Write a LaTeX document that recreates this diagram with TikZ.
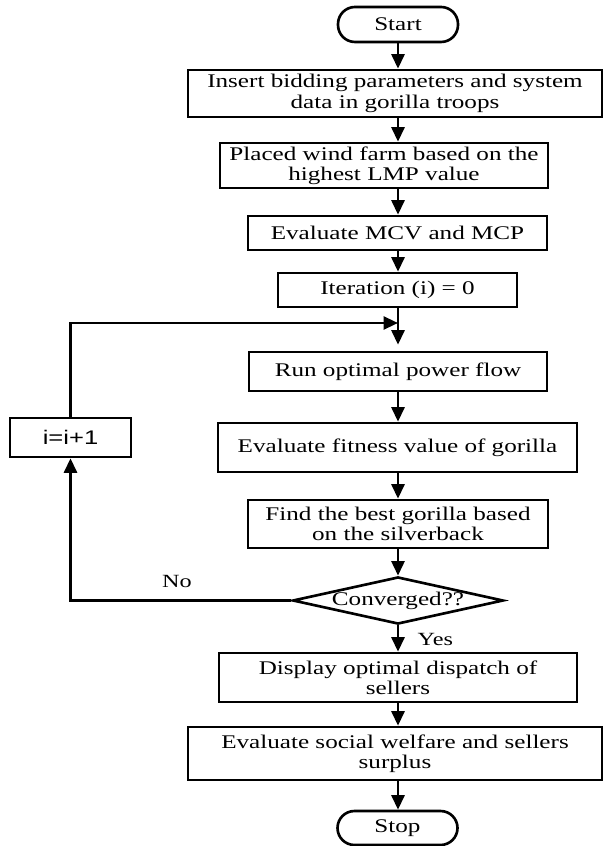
\documentclass[tikz,border=0pt]{standalone}
\usepackage{fontspec}
\setmainfont{Liberation Serif}[FakeStretch=1.3]
\newfontfamily\incfont{Liberation Sans}[FakeStretch=1.3]
\usepackage{tikz}
\usetikzlibrary{positioning,shapes.geometric,arrows.meta}

\begin{document}
\begin{tikzpicture}[
    terminal/.style={rectangle, draw=black, line width=0.75pt, rounded corners=1.7mm, minimum width=1.2cm, minimum height=0.35cm, inner sep=0pt, align=center, font=\fontsize{5.5}{5.8}\selectfont},
    process/.style={rectangle, draw=black, line width=0.75pt, inner sep=0pt, align=center, font=\fontsize{5.5}{5.8}\selectfont},
    decision/.style={diamond, draw=black, line width=0.75pt, aspect=4.47, inner sep=0pt, minimum width=2.1cm, minimum height=0.47cm, font=\fontsize{5.5}{5.8}\selectfont},
    tag/.style={inner sep=0pt, font=\fontsize{5.3}{5.6}\selectfont},
    arrow/.style={line width=0.75pt, -{Triangle[length=1.45mm, width=1.3mm]}}
]
    \useasboundingbox (0,0) rectangle (6.04,-8.46);
    \coordinate (axis) at (3.98,0);

    \node[terminal] (start) at (3.98,-0.245) {Start};
    \node[process, minimum width=4.14cm, minimum height=0.47cm] (param) at (3.95,-0.935) {Insert bidding parameters and system\\data in gorilla troops};
    \node[process, minimum width=3.28cm, minimum height=0.45cm] (wind) at (3.84,-1.655) {Placed wind farm based on the\\highest LMP value};
    \node[process, minimum width=2.99cm, minimum height=0.34cm] (mcv) at (3.975,-2.33) {Evaluate MCV and MCP};
    \node[process, minimum width=2.39cm, minimum height=0.34cm] (iter) at (3.975,-2.90) {Iteration (i) = 0};
    \node[process, minimum width=2.98cm, minimum height=0.39cm] (opf) at (3.98,-3.715) {Run optimal power flow};
    \node[process, minimum width=3.59cm, minimum height=0.49cm] (fit) at (3.975,-4.475) {Evaluate fitness value of gorilla};
    \node[process, minimum width=3.00cm, minimum height=0.48cm] (best) at (3.98,-5.24) {Find the best gorilla based\\on the silverback};
    \node[decision] (conv) at (3.98,-6.005) {Converged??};
    \node[process, minimum width=3.58cm, minimum height=0.49cm] (disp) at (3.98,-6.775) {Display optimal dispatch of\\sellers};
    \node[process, minimum width=4.14cm, minimum height=0.53cm] (welf) at (3.95,-7.535) {Evaluate social welfare and sellers\\surplus};
    \node[terminal, minimum height=0.34cm] (stop) at (3.975,-8.28) {Stop};

    \node[process, minimum width=1.21cm, minimum height=0.39cm, font=\incfont\fontsize{5.6}{5.8}\selectfont] (inc) at (0.705,-4.375) {i=i+1};
    \coordinate (join) at (3.98,-3.23);

    \node[tag, anchor=base] (no) at (1.77,-5.87) {No};
    \node[tag, anchor=base west] (yes) at (4.17,-6.45) {Yes};

    \draw[arrow] (start.south -| axis) -- (param.north -| axis);
    \draw[arrow] (param.south -| axis) -- (wind.north -| axis);
    \draw[arrow] (wind.south -| axis) -- (mcv.north -| axis);
    \draw[arrow] (mcv.south -| axis) -- (iter.north -| axis);
    \draw[arrow, shorten >=0.6mm] (iter.south -| axis) -- (opf.north -| axis);
    \draw[arrow] (opf.south -| axis) -- (fit.north -| axis);
    \draw[arrow] (fit.south -| axis) -- (best.north -| axis);
    \draw[arrow] (best.south -| axis) -- (conv.north);
    \draw[arrow] (conv.south) -- (disp.north -| axis);
    \draw[arrow] (disp.south -| axis) -- (welf.north -| axis);
    \draw[arrow] (welf.south -| axis) -- (stop.north -| axis);

    \draw[arrow] (conv.west) -| (inc.south);
    \draw[arrow] (inc.north) |- (join);
\end{tikzpicture}
\end{document}
